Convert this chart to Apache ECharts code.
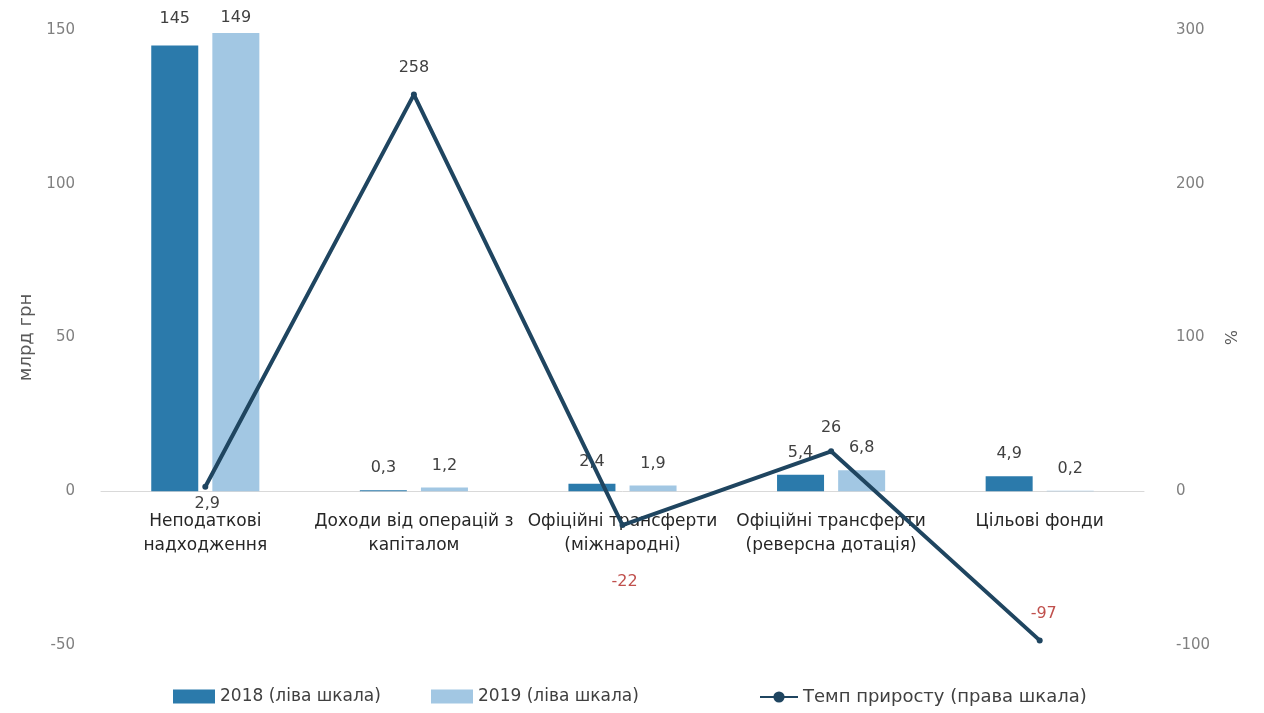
<!DOCTYPE html>
<html><head><meta charset="utf-8">
<script src="https://cdn.jsdelivr.net/npm/echarts@6/dist/echarts.min.js"></script>
<style>html,body{margin:0;padding:0;background:#fff}#c{width:1264px;height:713px}</style>
</head><body><div id="c"></div>
<script>
const categories = ['Неподаткові\nнадходження', 'Доходи від операцій з\nкапіталом', 'Офіційні трансферти\n(міжнародні)', 'Офіційні трансферти\n(реверсна дотація)', 'Цільові фонди'];
const values2018 = [145, 0.3, 2.4, 5.4, 4.9];
const values2019 = [149, 1.2, 1.9, 6.8, 0.2];
const growthRate = [2.9, 258, -22, 26, -97];
const leftTicks = [-50, 0, 50, 100, 150];
const rightTicks = [-100, 0, 100, 200, 300];
const seriesNames = ['2018 (ліва шкала)', '2019 (ліва шкала)', 'Темп приросту (права шкала)'];

const fmt = v => String(v).replace('.', ',');
const FONT = '"DejaVu Sans", sans-serif';
const lineLabelStyle = [
  {position: 'bottom', offset: [2, 0], color: '#404040'},
  {position: 'top', offset: [0, -10], color: '#404040'},
  {position: 'bottom', offset: [2, 40], color: '#c0504d'},
  {position: 'top', offset: [0, -6], color: '#404040'},
  {position: 'top', offset: [4, -10], color: '#c0504d'}
];
const bar2018LabelOffsets = [[0, -5], [0, 0], [0, 0], [0, 0], [0, 0]];
const bar2019LabelOffsets = [[0, 7], [0, 0], [0, 0], [0, 0], [0, 0]];

const grid = {left: 101, right: 120, top: 30, bottom: 68};
const plotH = 713 - grid.top - grid.bottom;
const zeroFromBottom = plotH * (0 - leftTicks[0]) / (leftTicks[leftTicks.length-1] - leftTicks[0]);

const legendBase = {
  top: 683, itemHeight: 14,
  textStyle: {fontSize: 17, color: '#404040', fontFamily: FONT}
};

const chart = echarts.init(document.getElementById('c'));
chart.setOption({
  animation: false,
  textStyle: {fontFamily: FONT},
  grid: grid,
  legend: [
    Object.assign({}, legendBase, {left: 168, itemWidth: 42, data: [{name: seriesNames[0], icon: 'rect'}]}),
    Object.assign({}, legendBase, {left: 426, itemWidth: 42, data: [{name: seriesNames[1], icon: 'rect'}]}),
    Object.assign({}, legendBase, {left: 754, itemWidth: 38, data: [{name: seriesNames[2]}],
      textStyle: {fontSize: 18, color: '#404040', fontFamily: FONT}})
  ],
  xAxis: {
    type: 'category', data: categories, position: 'bottom',
    offset: -zeroFromBottom,
    axisLine: {onZero: false, lineStyle: {color: '#d9d9d9', width: 1}},
    axisTick: {show: false},
    axisLabel: {color: '#262626', fontSize: 17, lineHeight: 24, margin: 18, interval: 0, fontFamily: FONT}
  },
  yAxis: [{
    type: 'value', min: leftTicks[0], max: leftTicks[leftTicks.length-1], interval: 50,
    name: 'млрд грн', nameLocation: 'middle', nameGap: 64, nameRotate: 90,
    nameTextStyle: {color: '#595959', fontSize: 18, fontFamily: FONT},
    splitLine: {show: false}, axisLine: {show: false}, axisTick: {show: false},
    axisLabel: {color: '#808080', fontSize: 15, margin: 26, fontFamily: FONT}
  }, {
    type: 'value', min: rightTicks[0], max: rightTicks[rightTicks.length-1], interval: 100,
    name: '%', nameLocation: 'middle', nameGap: 74, nameRotate: -90,
    nameTextStyle: {color: '#595959', fontSize: 16, fontFamily: FONT},
    splitLine: {show: false}, axisLine: {show: false}, axisTick: {show: false},
    axisLabel: {color: '#808080', fontSize: 15, margin: 32, align: 'left', fontFamily: FONT}
  }],
  series: [{
    name: seriesNames[0], type: 'bar', yAxisIndex: 0,
    data: values2018.map((v, i) => ({value: v, label: {offset: bar2018LabelOffsets[i]}})),
    barWidth: 47, barGap: '30%',
    itemStyle: {color: '#2b7aab'},
    label: {show: true, position: 'top', distance: 14, color: '#404040', fontSize: 16, formatter: p => fmt(p.value)}
  }, {
    name: seriesNames[1], type: 'bar', yAxisIndex: 0,
    data: values2019.map((v, i) => ({value: v, label: {offset: bar2019LabelOffsets[i]}})),
    barWidth: 47,
    itemStyle: {color: '#a2c7e3'},
    label: {show: true, position: 'top', distance: 14, color: '#404040', fontSize: 16, formatter: p => fmt(p.value)}
  }, {
    name: seriesNames[2], type: 'line', yAxisIndex: 1,
    data: growthRate.map((v, i) => ({value: v, label: lineLabelStyle[i]})),
    symbol: 'circle', symbolSize: 6, z: 5,
    lineStyle: {color: '#1f4560', width: 4},
    itemStyle: {color: '#1f4560'},
    label: {show: true, fontSize: 16, distance: 6, formatter: p => fmt(p.value)}
  }]
});
</script></body></html>
